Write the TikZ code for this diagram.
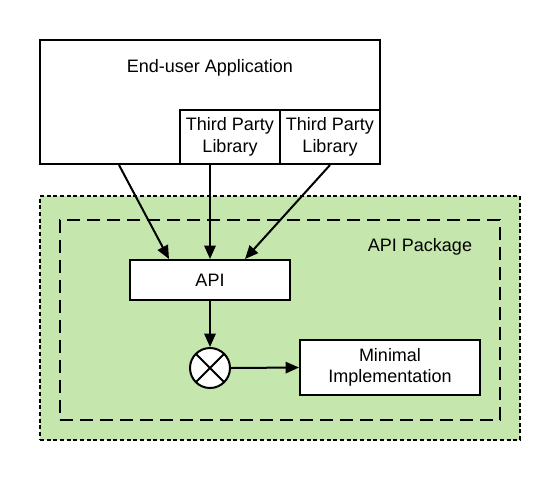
\documentclass[tikz,border=0pt]{standalone}
\usepackage{fontspec}
\setmainfont{Liberation Sans}
\usetikzlibrary{arrows.meta,positioning}
\definecolor{pkggreen}{RGB}{197,231,173}

\begin{document}
\begin{tikzpicture}[x=0.75pt, y=-0.75pt,
    every node/.style={font=\fontsize{13.5}{16}\selectfont},
    box/.style={draw, line width=1.5pt, fill=white, inner sep=0pt, align=center},
    link/.style={line width=1.5pt, -{Triangle[length=10pt, width=8.5pt]}}]
    \useasboundingbox (0, 0) rectangle (560, 480);

    % package area
    \node[draw, fill=pkggreen, line width=1.5pt, dash pattern=on 3pt off 2pt,
          minimum width=360pt, minimum height=183pt] (pkg) at (280, 318) {};
    \node[draw, line width=1.5pt, dash pattern=on 10pt off 5pt,
          minimum width=330pt, minimum height=150pt] (inner) at (280, 320) {};
    \node (pkglabel) at (420, 247) {API Package};

    % application
    \node[box, minimum width=255pt, minimum height=93pt] (app) at (210, 102) {};
    \node (apptitle) at (210, 68) {End-user Application};
    \node[box, minimum width=75pt, minimum height=40.5pt] (tp1) at (230, 137) {Third Party\\Library};
    \node[box, minimum width=75pt, minimum height=40.5pt] (tp2) at (330, 137) {Third Party\\Library};

    \node[box, minimum width=120pt, minimum height=30pt] (api) at (210, 280) {API};
    \node[draw, circle, line width=1.5pt, fill=white, minimum size=30pt, inner sep=0pt,
          path picture={\draw[line width=1.5pt]
              (path picture bounding box.north west) -- (path picture bounding box.south east)
              (path picture bounding box.north east) -- (path picture bounding box.south west);}]
          (mux) at (210, 368) {};
    \node[box, minimum width=135pt, minimum height=41.25pt] (impl) at (390, 367.5) {Minimal\\Implementation};

    \draw[link] ([xshift=60pt]app.south west) -- ([xshift=30pt]api.north west);
    \draw[link] ([xshift=-15pt]tp1.south) -- (api.north);
    \draw[link] (tp2.south) -- ([xshift=26.25pt]api.north);
    \draw[link] (api.south) -- (mux.north);
    \draw[link] (mux.east) -- (impl.west);
\end{tikzpicture}
\end{document}
